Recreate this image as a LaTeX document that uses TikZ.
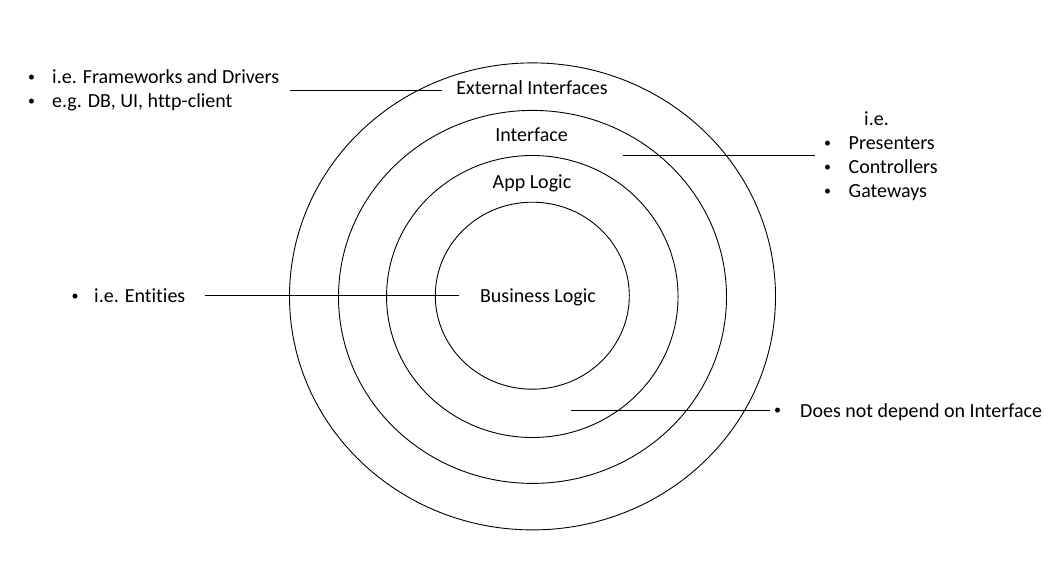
\documentclass[tikz,border=0pt]{standalone}
\usepackage{fontspec}
\setmainfont{Carlito}[Ligatures={NoCommon}]
\usetikzlibrary{shapes.geometric}
\newcommand{\smallbul}{\raisebox{2pt}{\fontsize{14}{16}\selectfont •}}
\begin{document}
\begin{tikzpicture}[x=1pt,y=-1pt,
  ring/.style={draw, ellipse, inner sep=0pt, line width=0.9pt},
  lbl/.style={font=\fontsize{20}{24}\selectfont, inner sep=0pt, anchor=base},
  lblw/.style={lbl, anchor=base west},
  bul/.style={lbl, anchor=base},
  lead/.style={line width=1pt}]
\useasboundingbox (0,0) rectangle (1063,561);
% rings
\node[ring, minimum width=486pt, minimum height=467pt] (outer) at (532.5,296.4) {};
\node[ring, minimum width=388pt, minimum height=373pt] (second) at (532.5,296.9) {};
\node[ring, minimum width=291.5pt, minimum height=282pt] (third) at (532.3,296.5) {};
\node[ring, minimum width=194pt, minimum height=187pt] (inner) at (532.3,295.7) {};
% ring labels
\node[lbl] (ext) at (532,95) {External Interfaces};
\node[lbl] (iface) at (531.5,142) {Interface};
\node[lbl] (app) at (532,189) {App Logic};
\node[lbl] (bl) at (538,303) {Business Logic};
% top-left list
\node[bul] (b1) at (31.7,84) {\smallbul};
\node[lblw] (fw) at (52,84) {i.e. Frameworks and Drivers};
\node[bul] (b2) at (31.7,107.5) {\smallbul};
\node[lblw] (db) at (52,107.5) {e.g. DB, UI, http-client};
% right list
\node[lblw] (ie) at (864,126) {i.e.};
\node[bul] (b3) at (827.7,149.5) {\smallbul};
\node[lblw] (pres) at (848.5,149.5) {Presenters};
\node[bul] (b4) at (827.7,173.5) {\smallbul};
\node[lblw] (ctrl) at (848.5,173.5) {Controllers};
\node[bul] (b5) at (827.7,197.5) {\smallbul};
\node[lblw] (gate) at (848.5,197.5) {Gateways};
% entities
\node[bul] (b6) at (75,303) {\smallbul};
\node[lblw] (ent) at (94,303) {i.e. Entities};
% bottom
\node[bul] (b7) at (777.7,417) {\smallbul};
\node[lblw] (dep) at (800,417) {Does not depend on Interface};
% leader lines
\coordinate (l1a) at (290,90.4);
\coordinate (l1b) at (441.5,90.4);
\coordinate (l2a) at (622.7,155.3);
\coordinate (l2b) at (815,155.3);
\coordinate (l3a) at (205,296);
\coordinate (l3b) at (458.7,296);
\coordinate (l4a) at (570.7,410.7);
\coordinate (l4b) at (770,410.7);
\draw[lead] (l1a) -- (l1b);
\draw[lead] (l2a) -- (l2b);
\draw[lead] (l3a) -- (l3b);
\draw[lead] (l4a) -- (l4b);
\end{tikzpicture}
\end{document}
